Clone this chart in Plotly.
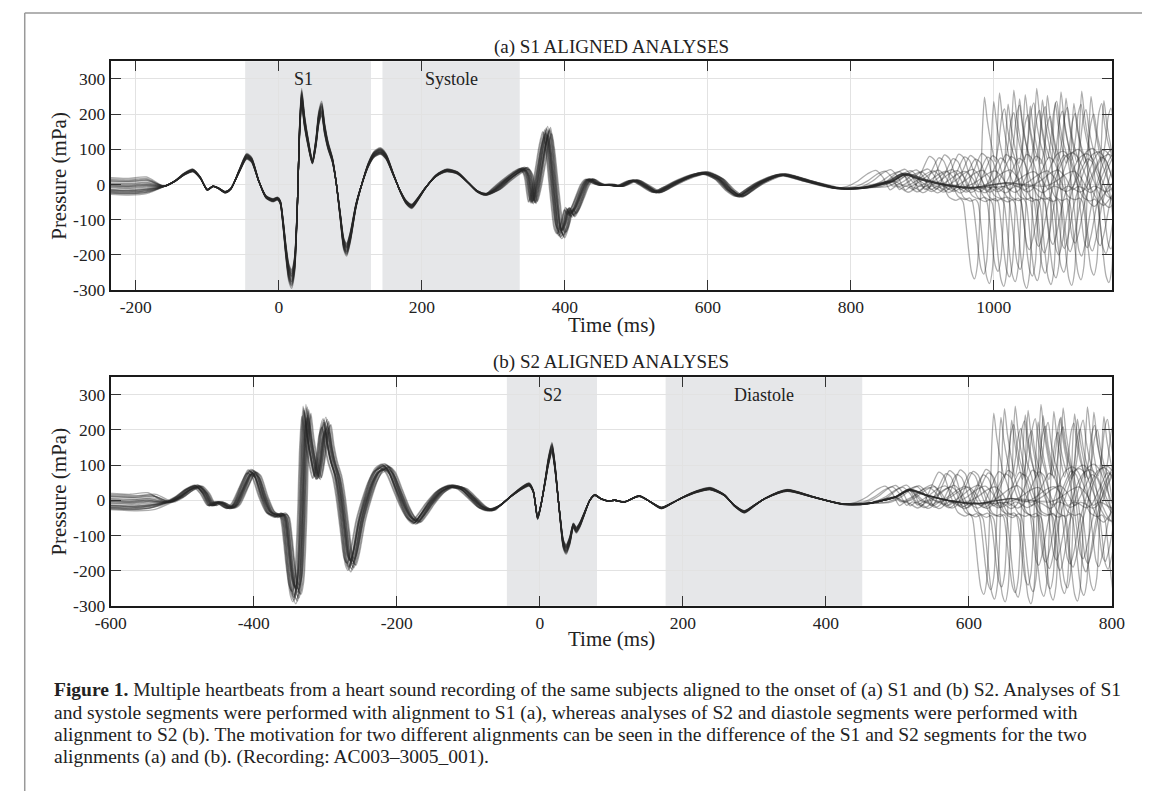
import plotly.graph_objects as go

# ---------------- data ----------------
# S1-aligned part of one heartbeat: time (ms, relative to S1 onset) / pressure (mPa)
s1_t = [-260, -235, -210, -185, -160, -145, -132, -120, -110, -100, -92, -85, -75, -67,
        -55, -45, -38, -28, -18, -8, -2, 2, 6, 10, 14, 18, 22, 26, 29, 32, 36, 41, 47,
        52, 56, 60, 64, 69, 75, 80, 86, 91, 95, 100, 108, 116, 125, 133, 142, 150, 160,
        170, 178, 186, 195, 205, 220, 235, 250, 265, 278, 290]
s1_v = [-8, -10, -12, -8, -5, 10, 30, 40, 20, -15, -5, -10, -22, -12,
        40, 80, 70, 10, -35, -45, -40, -50, -110, -190, -250, -268, -230, -60, 150, 248, 180, 120, 65,
        120, 190, 215, 160, 110, 70, 10, -90, -170, -185, -150, -60, 0, 55, 85, 95, 80, 30,
        -20, -50, -62, -40, -10, 25, 40, 33, 5, -20, -28]
# S2-aligned part of one heartbeat: time (ms, relative to S2 onset) / pressure (mPa)
s2_t = [-55, -40, -25, -15, -9, -3, 2, 8, 12, 17, 21, 25, 29, 33, 37, 42, 47, 51, 56, 62,
        70, 77, 85, 95, 105, 118, 139, 155, 170, 185, 201, 220, 238, 258, 272, 286, 300,
        315, 346, 383, 424, 460, 497, 517, 540, 570, 610, 660, 720, 800]
s2_v = [-14, 12, 35, 45, 25, -50, -10, 60, 110, 150, 100, 20, -60, -125, -140, -115, -72, -85, -70, -40,
        0, 15, 5, -2, 0, -5, 12, -5, -22, -8, 9, 25, 33, 15, -15, -33, -15,
        5, 28, 9, -11, -9, 9, 30, 15, 0, -10, 5, 0, -5]
s1_to_s2 = 358         # mean S1 -> S2 onset interval (ms)
next_beat_from = -160  # first S1-relative time of the following beat that is drawn

# per-beat values (23 beats)
s2_shift = [-6, -3, 0, 2, 5, -1, 3, -4, 1, 6, -2, 0, 4, -5, 2, -1, 3, 7, -3, 1, -2, 4, 0]
rr_interval = [955, 968, 976, 988, 996, 1004, 1012, 1019, 1028, 1036, 1043, 1054,
               1062, 1069, 1080, 1091, 1104, 1122, 1143, 1176, 1195, 1210, 1232]
amp = [1.0, 0.95, 1.05, 0.92, 1.08, 0.98, 1.03, 0.9, 1.1, 0.97, 1.02, 0.94,
       1.06, 0.99, 0.93, 1.07, 1.01, 0.96, 1.04, 0.91, 0.97, 1.03, 0.95]
lead = [25, -8, 10, -15, 30, 0, -10, 18, -5, 8, -12, 22, 3, -18, 12, -3, 6, -10, 15, -6, 20, -14, 5]

# axes / labels
xa_ticks = [-200, 0, 200, 400, 600, 800, 1000]
xb_ticks = [-600, -400, -200, 0, 200, 400, 600, 800]
y_ticks = [-300, -200, -100, 0, 100, 200, 300]
segments_a = [("S1", -47, 129, 35), ("Systole", 145, 337, 241)]
segments_b = [("S2", -46, 80, 18), ("Diastole", 176, 451, 313)]
caption = [
    "<b>Figure 1.</b> Multiple heartbeats from a heart sound recording of the same subjects aligned to the onset of (a) S1 and (b) S2. Analyses of S1",
    "and systole segments were performed with alignment to S1 (a), whereas analyses of S2 and diastole segments were performed with",
    "alignment to S2 (b). The motivation for two different alignments can be seen in the difference of the S1 and S2 segments for the two",
    "alignments (a) and (b). (Recording: AC003\u20133005_001).",
]

# ---------------- build ----------------
OFF = 8                       # default page margin around the figure div
W, H = 1155 - OFF, 801 - OFF
FONT = "Liberation Serif"


def px(x):
    return (x - OFF) / W


def py(y):
    return 1 - (y - OFF) / H


def beat(i):
    xs, ys = [], []
    for t, v in zip(s1_t, s1_v):
        xs.append(t)
        ys.append(amp[i] * v + (lead[i] if t <= -185 else 0))
    nxt = rr_interval[i] + next_beat_from
    for t, v in zip(s2_t, s2_v):
        tt = s1_to_s2 + s2_shift[i] + t
        if tt < nxt:
            xs.append(tt)
            ys.append(amp[i] * v)
    for t, v in zip(s1_t, s1_v):
        if t >= next_beat_from:
            xs.append(rr_interval[i] + t)
            ys.append(amp[i] * v)
    return xs, ys


fig = go.Figure()
line = dict(color="rgba(40,40,40,0.38)", width=1.3, shape="spline", smoothing=0.7)
for i in range(len(rr_interval)):
    xs, ys = beat(i)
    fig.add_trace(go.Scatter(x=xs, y=ys, mode="lines", line=line, hoverinfo="skip",
                             showlegend=False, xaxis="x", yaxis="y"))
    off = s1_to_s2 + s2_shift[i]
    fig.add_trace(go.Scatter(x=[x - off for x in xs], y=ys, mode="lines", line=line,
                             hoverinfo="skip", showlegend=False, xaxis="x2", yaxis="y2"))

xdom = [px(97), px(1124)]
axis_common = dict(showline=True, linewidth=2.2, linecolor="#1a1a1a", mirror="ticks",
                   ticks="inside", ticklen=10, tickwidth=1.4, tickcolor="#333",
                   showgrid=True, gridcolor="#e2e2e2", gridwidth=1.3, zeroline=False,
                   tickfont=dict(family=FONT, size=17.5, color="#222"))


def lbl(v):
    return ("-" + str(-v)) if v < 0 else str(v)


fig.update_layout(
    width=W, height=H, margin=dict(l=0, r=0, t=0, b=0),
    paper_bgcolor="white", plot_bgcolor="white", showlegend=False,
    xaxis=dict(domain=xdom, range=[-235, 1165], anchor="y", tickvals=xa_ticks,
               ticktext=[lbl(v) for v in xa_ticks], **axis_common),
    yaxis=dict(domain=[py(293.7), py(62)], range=[-300, 350], anchor="x", tickvals=y_ticks,
               ticktext=[lbl(v) for v in y_ticks], **axis_common),
    xaxis2=dict(domain=xdom, range=[-600, 800], anchor="y2", tickvals=xb_ticks,
                ticktext=[lbl(v) for v in xb_ticks], **axis_common),
    yaxis2=dict(domain=[py(613.3), py(382)], range=[-300, 350], anchor="x2", tickvals=y_ticks,
                ticktext=[lbl(v) for v in y_ticks], **axis_common),
)

shapes = []
annos = []
for segs, xr, yr in [(segments_a, "x", "y"), (segments_b, "x2", "y2")]:
    for name, x0, x1, xc in segs:
        shapes.append(dict(type="rect", xref=xr, yref=yr + " domain", x0=x0, x1=x1, y0=0, y1=1,
                           fillcolor="#e6e7e9", line=dict(width=0), layer="below"))
        annos.append(dict(text=name, xref=xr, yref=yr, x=xc, y=300, showarrow=False,
                          font=dict(family=FONT, size=18, color="#222"),
                          xanchor="center", yanchor="middle"))

xc = px((97 + 1124) / 2)
for txt, y in [("(a) S1 ALIGNED ANALYSES", 47), ("(b) S2 ALIGNED ANALYSES", 367)]:
    annos.append(dict(text=txt, xref="paper", yref="paper", x=xc, y=py(y), showarrow=False,
                      font=dict(family=FONT, size=19, color="#222"), xanchor="center", yanchor="middle"))
for y in [329, 647.5]:
    annos.append(dict(text="Time (ms)", xref="paper", yref="paper", x=xc, y=py(y), showarrow=False,
                      font=dict(family=FONT, size=21, color="#222"), xanchor="center", yanchor="middle"))
for y in [(62 + 293.7) / 2, (382 + 613.3) / 2]:
    annos.append(dict(text="Pressure (mPa)", xref="paper", yref="paper", x=px(44), y=py(y),
                      showarrow=False, textangle=-90,
                      font=dict(family=FONT, size=21, color="#222"), xanchor="center", yanchor="middle"))
for k, txt in enumerate(caption):
    annos.append(dict(text=txt, xref="paper", yref="paper", x=px(37), y=py(699 + 22.5 * k),
                      showarrow=False, font=dict(family=FONT, size=19.5, color="#222"),
                      xanchor="left", yanchor="middle"))

# outer frame of the figure box
shapes.append(dict(type="line", xref="paper", yref="paper", x0=px(8.75), x1=1, y0=py(13), y1=py(13),
                   line=dict(color="#999", width=1.5)))
shapes.append(dict(type="line", xref="paper", yref="paper", x0=px(8.75), x1=px(8.75), y0=py(13), y1=0,
                   line=dict(color="#999", width=1.5)))

fig.update_layout(shapes=shapes, annotations=annos)
fig.write_html("out.html")
